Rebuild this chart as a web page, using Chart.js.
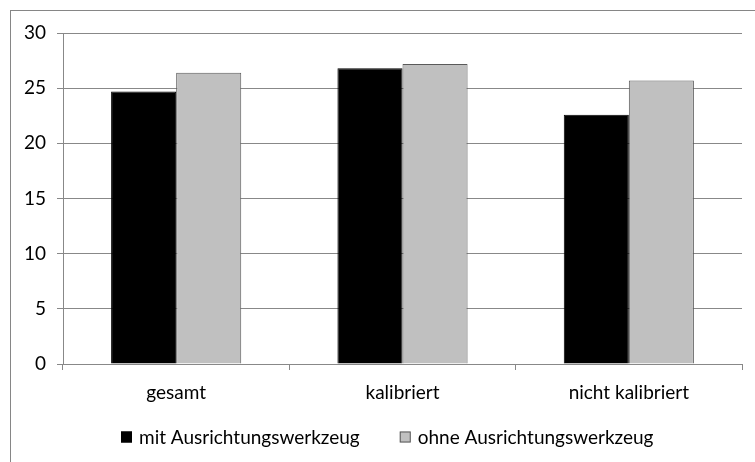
<!DOCTYPE html>
<html>
<head>
<meta charset="utf-8">
<script src="https://cdn.jsdelivr.net/npm/chart.js@4/dist/chart.umd.min.js"></script>
<style>
  html, body { margin: 0; padding: 0; background: #fff; }
  #wrap { position: relative; width: 755px; height: 462px; }
</style>
</head>
<body>
<div id="wrap"><canvas id="c" width="755" height="462"></canvas></div>
<script>
const categories = ['gesamt', 'kalibriert', 'nicht kalibriert'];
const seriesNames = ['mit Ausrichtungswerkzeug', 'ohne Ausrichtungswerkzeug'];
const mitWerkzeug = [24.7, 26.8, 22.6];
const ohneWerkzeug = [26.4, 27.2, 25.7];
const yTicks = [0, 5, 10, 15, 20, 25, 30];

const FONT = 'Lato, "Open Sans", sans-serif';
const TEXT_SIZE = 19;
const AXIS_GREY = '#888888';

// outer frame of the chart object
const framePlugin = {
  id: 'frame',
  beforeDraw(chart) {
    const ctx = chart.ctx;
    ctx.save();
    ctx.fillStyle = '#fff';
    ctx.fillRect(0, 0, chart.width, chart.height);
    ctx.strokeStyle = '#868686';
    ctx.lineWidth = 1;
    ctx.strokeRect(10.5, 10.5, 900, 600);
    ctx.restore();
  }
};

// legend row below the category axis
const legendRow = {
  id: 'legendRow',
  afterDraw(chart) {
    const ctx = chart.ctx;
    const ds = chart.data.datasets;
    const box = 11, gapText = 7, gapItem = 40, startX = 121, centerY = 437;
    ctx.save();
    ctx.font = TEXT_SIZE + 'px ' + FONT;
    ctx.textBaseline = 'middle';
    ctx.textAlign = 'left';
    let x = startX;
    ds.forEach((d) => {
      ctx.fillStyle = d.backgroundColor;
      ctx.fillRect(x, centerY - box / 2, box, box);
      ctx.strokeStyle = d.borderColor;
      ctx.lineWidth = 1;
      ctx.strokeRect(x + 0.5, centerY - box / 2 + 0.5, box - 1, box - 1);
      ctx.fillStyle = '#000';
      ctx.fillText(d.label, x + box + gapText, centerY + 1);
      x += box + gapText + ctx.measureText(d.label).width + gapItem;
    });
    ctx.restore();
  }
};

new Chart(document.getElementById('c'), {
  type: 'bar',
  data: {
    labels: categories,
    datasets: [
      {
        label: seriesNames[0],
        data: mitWerkzeug,
        backgroundColor: '#000000',
        borderColor: '#000000',
        borderWidth: 1,
        categoryPercentage: 0.575,
        barPercentage: 1.0
      },
      {
        label: seriesNames[1],
        data: ohneWerkzeug,
        backgroundColor: '#c0c0c0',
        borderColor: '#5a5a5a',
        borderWidth: 1,
        categoryPercentage: 0.575,
        barPercentage: 1.0
      }
    ]
  },
  options: {
    responsive: false,
    animation: false,
    devicePixelRatio: 1,
    layout: { padding: { left: 0, right: 13, top: 33, bottom: 0 } },
    plugins: {
      legend: { display: false },
      tooltip: { enabled: false },
      title: { display: false }
    },
    scales: {
      x: {
        offset: true,
        grid: {
          offset: true,
          drawOnChartArea: false,
          drawTicks: true,
          tickLength: 6,
          color: AXIS_GREY
        },
        border: { color: AXIS_GREY, width: 1 },
        ticks: {
          color: '#000',
          font: { family: FONT, size: TEXT_SIZE },
          padding: 11
        },
        afterFit(scale) { scale.height = 98; }
      },
      y: {
        min: 0,
        max: 30,
        afterBuildTicks(scale) { scale.ticks = yTicks.map(v => ({ value: v })); },
        grid: {
          color: AXIS_GREY,
          tickLength: 6,
          drawTicks: true
        },
        border: { color: AXIS_GREY, width: 1 },
        ticks: {
          color: '#000',
          font: { family: FONT, size: TEXT_SIZE },
          padding: 11
        },
        afterFit(scale) { scale.width = 63; }
      }
    }
  },
  plugins: [framePlugin, legendRow]
});
</script>
</body>
</html>
